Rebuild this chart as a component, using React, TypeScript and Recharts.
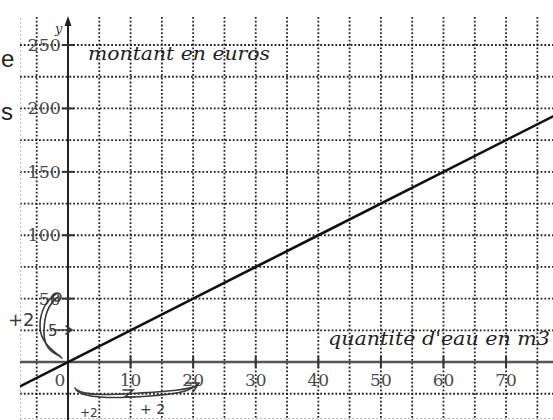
import React from "react";
import {
  ComposedChart,
  XAxis,
  YAxis,
  CartesianGrid,
  Line,
  Scatter,
  ReferenceLine,
  ReferenceDot,
} from "recharts";

// ---- data ----
const quantities = [-8, 0, 20, 40, 60, 78];
const amounts = [-20, 0, 50, 100, 150, 195];
const xTickValues = [10, 20, 30, 40, 50, 60, 70];
const yTickValues = [50, 100, 150, 200, 250];
const xGridValues = [-5, 5, 10, 15, 20, 25, 30, 35, 40, 45, 50, 55, 60, 65, 70, 75];
const yGridValues = [-25, 25, 50, 75, 100, 125, 150, 175, 200, 225, 250];
const yAxisTitle = "montant en euros";
const xAxisTitle = "quantité d'eau en m3";

const lineData = quantities.map((q, i) => ({ x: q, y: amounts[i] }));
const xTickData = xTickValues.map((v) => ({ x: v, y: 0, label: String(v) }));
const yTickData = yTickValues.map((v) => ({ x: 0, y: v, label: String(v) }));
const originData = [{ x: 0, y: 0, label: "0" }];

const W = 553;
const H = 420;
const labelFont = "'DejaVu Serif', serif";

const XTickShape = (p: any) => (
  <g>
    <line x1={p.cx} x2={p.cx} y1={p.cy - 6} y2={p.cy + 6} stroke="#333" strokeWidth={2} />
    <text x={p.cx} y={p.cy + 24} textAnchor="middle" fontFamily={labelFont} fontSize={17} fill="#4a4a4a">
      {p.payload.label}
    </text>
  </g>
);

const YTickShape = (p: any) => (
  <g>
    <line x1={p.cx - 6} x2={p.cx + 6} y1={p.cy} y2={p.cy} stroke="#333" strokeWidth={2} />
    <text x={p.cx - 7} y={p.cy + 6} textAnchor="end" fontFamily={labelFont} fontSize={17.5} fill="#4a4a4a">
      {p.payload.label}
    </text>
  </g>
);

const OriginShape = (p: any) => (
  <text x={p.cx - 8} y={p.cy + 24} textAnchor="middle" fontFamily={labelFont} fontSize={17} fill="#4a4a4a">
    {p.payload.label}
  </text>
);

const ArrowShape = (p: any) => (
  <path d={`M ${p.cx} ${p.cy - 5} L ${p.cx - 3.5} ${p.cy + 5} L ${p.cx + 3.5} ${p.cy + 5} Z`} fill="#222" />
);

export default function App() {
  const ink = "#3a3a3a";
  return (
    <div style={{ position: "absolute", left: 0, top: 0, width: W, height: H, background: "#fff" }}>
      <ComposedChart width={W} height={H} margin={{ top: 17, right: 0, bottom: 0, left: 20 }}>
        <XAxis type="number" dataKey="x" domain={[-7.67, 77.5]} hide allowDataOverflow />
        <YAxis type="number" dataKey="y" domain={[-45.7, 272.1]} hide allowDataOverflow />
        <CartesianGrid
          verticalValues={xGridValues}
          horizontalValues={yGridValues}
          stroke="#222"
          strokeWidth={1.8}
          strokeDasharray="1.8 2"
        />
        <ReferenceLine x={-7.6} stroke="#bbb" strokeDasharray="2 2" strokeWidth={1} />
        <ReferenceLine y={-44.5} stroke="#bbb" strokeDasharray="2 2" strokeWidth={1} />
        <ReferenceLine y={0} stroke="#555" strokeWidth={2.5} />
        <ReferenceLine
          segment={[
            { x: 0, y: -46 },
            { x: 0, y: 268 },
          ]}
          stroke="#222"
          strokeWidth={2}
          ifOverflow="visible"
        />
        <ReferenceDot x={0} y={269} r={3} shape={ArrowShape} ifOverflow="visible" />
        <Line
          data={lineData}
          dataKey="y"
          type="linear"
          stroke="#111"
          strokeWidth={2.6}
          dot={false}
          activeDot={false}
          isAnimationActive={false}
        />
        <Scatter data={xTickData} dataKey="y" shape={XTickShape} isAnimationActive={false} />
        <Scatter data={yTickData} dataKey="y" shape={YTickShape} isAnimationActive={false} />
        <Scatter data={originData} dataKey="y" shape={OriginShape} isAnimationActive={false} />
      </ComposedChart>
      <svg
        width={W}
        height={H}
        style={{ position: "absolute", left: 0, top: 0, pointerEvents: "none" }}
      >
        <text x={1} y={67} fontFamily="'Liberation Sans', sans-serif" fontSize={24} fill="#222">e</text>
        <text x={1} y={120} fontFamily="'Liberation Sans', sans-serif" fontSize={24} fill="#222">s</text>
        <text x={55} y={33} fontFamily={labelFont} fontStyle="italic" fontSize={13} fill="#333">y</text>
        <text
          x={88}
          y={60}
          fontFamily={labelFont}
          fontStyle="italic"
          fontSize={19}
          fill="#222"
          textLength={182}
          lengthAdjust="spacingAndGlyphs"
        >
          {yAxisTitle}
        </text>
        <text
          x={328}
          y={345}
          fontFamily={labelFont}
          fontStyle="italic"
          fontSize={19}
          fill="#222"
          textLength={222}
          lengthAdjust="spacingAndGlyphs"
        >
          {xAxisTitle}
        </text>
        {/* handwritten annotations */}
        <g fill="none" stroke={ink} strokeWidth={1.6} strokeLinecap="round">
          <path d="M 62 358 C 52 350, 40 342, 40 326 C 40 312, 46 300, 56 294" />
          <path d="M 60 356 C 50 352, 44 346, 44 332 C 44 318, 48 304, 58 297" />
          <circle cx={57} cy={297} r={4} />
          <path d="M 54 330 L 72 330 M 66 326 L 72 330 L 66 334" />
          <path d="M 75 388 C 80 400, 120 398, 150 396 C 175 394, 190 392, 198 384" />
          <path d="M 77 390 C 86 397, 120 394, 140 393 C 170 391, 186 390, 196 386" />
          <path d="M 186 383 L 199 383 L 193 392" />
          <path d="M 123 390 L 133 390 L 125 397 L 135 397" />
        </g>
        <text x={8} y={326} fontFamily="'DejaVu Sans', sans-serif" fontSize={18} fill={ink}>+2</text>
        <text x={48} y={336} fontFamily="'DejaVu Sans', sans-serif" fontSize={15} fill={ink}>5</text>
        <text x={140} y={414} fontFamily="'DejaVu Sans', sans-serif" fontSize={14} fill={ink}>+ 2</text>
        <text x={80} y={417} fontFamily="'DejaVu Sans', sans-serif" fontSize={12} fill={ink}>+2</text>
      </svg>
    </div>
  );
}
